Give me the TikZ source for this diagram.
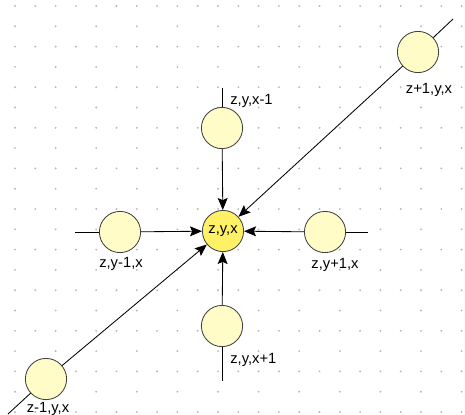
\documentclass[tikz,border=0pt]{standalone}
\usepackage{fontspec}
\setmainfont{Liberation Sans}
\usetikzlibrary{arrows.meta}
\definecolor{cellfill}{RGB}{255,252,200}
\definecolor{hubfill}{RGB}{255,241,102}
\definecolor{griddot}{RGB}{185,185,185}

\begin{document}
\begin{tikzpicture}[x=0.025cm,y=-0.025cm,
     >={Stealth[length=8.5pt,width=7pt,inset=1.5pt]},
     cell/.style={circle,draw=black!75,fill=cellfill,line width=0.6pt,minimum size=1.03cm,inner sep=0pt},
     hub/.style={cell,fill=hubfill,font=\fontsize{10.5}{12}\selectfont},
     lbl/.style={font=\fontsize{10.5}{12}\selectfont,inner sep=0pt},
     edg/.style={line width=0.6pt,->},
     stub/.style={line width=0.6pt}]
  \useasboundingbox (0,0) rectangle (465,414);
  % dot grid in the background
  \foreach \r in {0,2,...,20}
    \foreach \c in {0,...,22}
      \fill[griddot] ({15+20.3*\c},{6+20.3*\r}) circle (0.75pt);
  \foreach \r in {1,3,...,19}
    \foreach \c in {0,2,...,22}
      \fill[griddot] ({15+20.3*\c},{6+20.3*\r}) circle (0.75pt);

  % neighbours and the cell itself
  \node[hub]  (c)  at (223,231) {z,y,x};
  \node[cell] (xm) at (222,128) {};
  \node[cell] (xp) at (222,326) {};
  \node[cell] (ym) at (120,232) {};
  \node[cell] (yp) at (325,232) {};
  \node[cell] (zp) at (418,52)  {};
  \node[cell] (zm) at (46,379)  {};

  \coordinate (xm-end) at (222,88);
  \coordinate (xp-end) at (222,381);
  \coordinate (ym-end) at (75,232);
  \coordinate (yp-end) at (368,232);
  \coordinate (zp-end) at (453,19);
  \coordinate (zm-end) at (8,414);

  \draw[stub] (xm) -- (xm-end);
  \draw[stub] (xp) -- (xp-end);
  \draw[stub] (ym) -- (ym-end);
  \draw[stub] (yp) -- (yp-end);
  \draw[stub] (zp) -- (zp-end);
  \draw[stub] (zm) -- (zm-end);

  \draw[edg] (xm) -- (c);
  \draw[edg] (xp) -- (c);
  \draw[edg] (ym) -- (c);
  \draw[edg] (yp) -- (c);
  \draw[edg] (zp) -- (c);
  \draw[edg] (zm) -- (c);

  \node[lbl,anchor=west] (xm-lbl) at (230,101) {z,y,x-1};
  \node[lbl,anchor=west] (xp-lbl) at (230,360) {z,y,x+1};
  \node[lbl] (ym-lbl) at (121,264) {z,y-1,x};
  \node[lbl] (yp-lbl) at (335,265) {z,y+1,x};
  \node[lbl] (zp-lbl) at (429,90)  {z+1,y,x};
  \node[lbl] (zm-lbl) at (48,409)  {z-1,y,x};
\end{tikzpicture}
\end{document}
